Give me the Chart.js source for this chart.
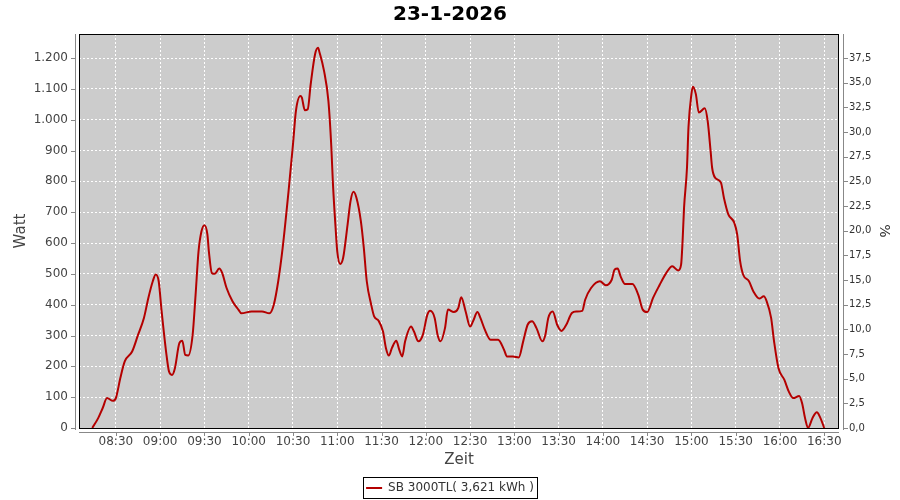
<!DOCTYPE html>
<html>
<head>
<meta charset="utf-8">
<script src="https://cdn.jsdelivr.net/npm/chart.js@4/dist/chart.umd.min.js"></script>
<style>
  body { margin: 0; background: #fff; }
  #wrap { width: 900px; height: 500px; }
</style>
</head>
<body>
<div id="wrap"><canvas id="pvChart" width="900" height="500"></canvas></div>
<script>
// Messwerte SB 3000TL, 23-1-2026
const zeit = [
    '08:14', '08:18', '08:21', '08:24', '08:28', '08:30', '08:33', '08:36', '08:41', '08:45',
    '08:49', '08:52', '08:55', '08:57', '08:59', '09:01', '09:04', '09:06', '09:08', '09:10',
    '09:13', '09:15', '09:17', '09:19', '09:22', '09:24', '09:26', '09:28', '09:30', '09:32',
    '09:33', '09:35', '09:37', '09:40', '09:42', '09:45', '09:49', '09:53', '09:55', '10:02',
    '10:09', '10:14', '10:17', '10:20', '10:23', '10:27', '10:30', '10:32', '10:35', '10:36',
    '10:38', '10:40', '10:42', '10:45', '10:47', '10:48', '10:51', '10:54', '10:56', '10:57',
    '10:59', '11:00', '11:02', '11:04', '11:07', '11:09', '11:11', '11:13', '11:16', '11:18',
    '11:20', '11:23', '11:25', '11:28', '11:31', '11:33', '11:35', '11:37', '11:40', '11:42',
    '11:44', '11:46', '11:50', '11:52', '11:55', '11:58', '12:01', '12:03', '12:06', '12:08',
    '12:10', '12:13', '12:15', '12:19', '12:22', '12:24', '12:27', '12:30', '12:32', '12:35',
    '12:37', '12:40', '12:44', '12:49', '12:53', '12:55', '12:59', '13:03', '13:06', '13:09',
    '13:12', '13:15', '13:19', '13:21', '13:23', '13:26', '13:29', '13:32', '13:35', '13:39',
    '13:42', '13:46', '13:48', '13:52', '13:58', '14:02', '14:06', '14:08', '14:10', '14:12',
    '14:15', '14:20', '14:24', '14:27', '14:30', '14:34', '14:38', '14:43', '14:47', '14:51',
    '14:53', '14:54', '14:55', '14:57', '14:58', '15:00', '15:01', '15:03', '15:05', '15:09',
    '15:11', '15:13', '15:14', '15:16', '15:20', '15:22', '15:25', '15:29', '15:31', '15:33',
    '15:35', '15:39', '15:42', '15:46', '15:49', '15:51', '15:54', '15:56', '15:59', '16:03',
    '16:06', '16:09', '16:13', '16:15', '16:17', '16:19', '16:22', '16:25', '16:27', '16:30'
];
const watt = [
    0, 32, 64, 97, 88, 97, 162, 216, 248, 302,
    357, 422, 476, 498, 476, 378, 248, 183, 172, 194,
    275, 283, 237, 235, 302, 432, 573, 638, 658, 628,
    573, 503, 500, 517, 503, 454, 411, 384, 372, 378,
    378, 372, 400, 476, 584, 768, 920, 1029, 1077, 1072,
    1031, 1034, 1115, 1213, 1233, 1218, 1159, 1061, 910, 800,
    640, 573, 532, 552, 660, 736, 766, 747, 671, 584,
    476, 400, 362, 348, 313, 259, 235, 259, 283, 254,
    232, 281, 329, 313, 281, 302, 367, 380, 357, 302,
    281, 324, 384, 376, 389, 424, 378, 329, 346, 376,
    357, 319, 286, 286, 254, 232, 232, 229, 281, 335,
    346, 324, 281, 302, 357, 378, 335, 315, 333, 373,
    378, 380, 416, 454, 476, 463, 481, 514, 517, 492,
    467, 467, 432, 384, 376, 422, 460, 503, 525, 511,
    530, 606, 714, 845, 975, 1083, 1107, 1083, 1023, 1037,
    996, 898, 845, 812, 796, 747, 693, 666, 628, 541,
    498, 476, 443, 420, 427, 411, 357, 281, 194, 156,
    118, 97, 104, 80, 32, 0, 32, 51, 37, 0
];
const zeitTicks = ['08:30', '09:00', '09:30', '10:00', '10:30', '11:00', '11:30', '12:00', '12:30',
    '13:00', '13:30', '14:00', '14:30', '15:00', '15:30', '16:00', '16:30'];
const zeitVon = '08:05';
const zeitBis = '16:40';
const wattMax = 1278;
const nennLeistung = 3200;
const legendeText = 'SB 3000TL( 3,621 kWh )';

toMin = (s) => {
    let p = s.split(':');
    return parseInt(p[0], 10) * 60 + parseInt(p[1], 10);
};
fmtZeit = (v) => {
    let h = Math.floor(v / 60);
    let m = v % 60;
    return (h < 10 ? '0' : '') + h + ':' + (m < 10 ? '0' : '') + m;
};

let punkte = [];
for (var i = 0; i < zeit.length; i++) {
    punkte.push({ x: toMin(zeit[i]), y: watt[i] });
}

Chart.defaults.font.family = "'DejaVu Sans', sans-serif";

// grauer Plot-Hintergrund, Rahmen, abgesetzte Achsenlinien, Legendenkasten
const plotDeko = {
    id: 'plotDeko',
    beforeDraw: (chart) => {
        let a = chart.chartArea;
        let ctx = chart.ctx;
        ctx.save();
        ctx.fillStyle = '#CCCCCC';
        ctx.fillRect(a.left, a.top, a.right - a.left, a.bottom - a.top);
        ctx.restore();
    },
    afterDraw: (chart) => {
        let a = chart.chartArea;
        let ctx = chart.ctx;
        ctx.save();
        ctx.lineWidth = 1;
        ctx.strokeStyle = '#000';
        ctx.strokeRect(a.left + 0.5, a.top + 0.5, a.right - a.left - 1, a.bottom - a.top);

        ctx.strokeStyle = '#888';
        ctx.beginPath();
        ctx.moveTo(a.left - 3.5, a.top);
        ctx.lineTo(a.left - 3.5, a.bottom + 2);
        ctx.moveTo(a.right + 4.5, a.top);
        ctx.lineTo(a.right + 4.5, a.bottom + 2);
        ctx.moveTo(a.left, a.bottom + 4.5);
        ctx.lineTo(a.right, a.bottom + 4.5);
        chart.scales.y.ticks.forEach(t => {
            let py = Math.round(chart.scales.y.getPixelForValue(t.value)) + 0.5;
            ctx.moveTo(a.left - 8, py);
            ctx.lineTo(a.left - 3, py);
        });
        chart.scales.y1.ticks.forEach(t => {
            let py = Math.round(chart.scales.y1.getPixelForValue(t.value)) + 0.5;
            ctx.moveTo(a.right + 4, py);
            ctx.lineTo(a.right + 9, py);
        });
        chart.scales.x.ticks.forEach(t => {
            let px = Math.round(chart.scales.x.getPixelForValue(t.value)) + 0.5;
            ctx.moveTo(px, a.bottom + 4);
            ctx.lineTo(px, a.bottom + 8);
        });
        ctx.stroke();

        let hb = chart.legend.legendHitBoxes[0];
        if (hb) {
            ctx.strokeStyle = '#000';
            ctx.strokeRect(Math.round(hb.left) - 2.5, Math.round(hb.top) - 4.5,
                Math.round(hb.width) + 6, Math.round(hb.height) + 9);
        }
        ctx.restore();
    }
};

var ctxL = document.getElementById('pvChart').getContext('2d');
var pvChart = new Chart(ctxL, {
    type: 'line',
    data: {
        datasets: [{
            label: legendeText,
            data: punkte,
            yAxisID: 'y',
            borderColor: '#B40000',
            backgroundColor: '#B40000',
            borderWidth: 2,
            pointRadius: 0,
            pointHoverRadius: 0,
            fill: false,
            cubicInterpolationMode: 'monotone'
        }]
    },
    options: {
        responsive: false,
        animation: false,
        layout: { padding: { left: 0, right: 0, top: 0, bottom: -4 } },
        plugins: {
            title: {
                display: true,
                text: '23-1-2026',
                color: '#000',
                font: { size: 20, weight: 'bold', lineHeight: 1.2 },
                padding: { top: 3, bottom: 7 }
            },
            legend: {
                position: 'bottom',
                labels: {
                    color: '#333',
                    font: { size: 12 },
                    padding: 6,
                    usePointStyle: true,
                    pointStyle: 'line',
                    pointStyleWidth: 16
                }
            },
            tooltip: { enabled: false }
        },
        scales: {
            x: {
                type: 'linear',
                min: toMin(zeitVon),
                max: toMin(zeitBis),
                afterBuildTicks: (s) => {
                    s.ticks = zeitTicks.map(z => ({ value: toMin(z) }));
                },
                afterFit: (s) => { s.height = 48; },
                ticks: {
                    color: '#444',
                    font: { size: 12 },
                    padding: 7,
                    maxRotation: 0,
                    autoSkip: false,
                    callback: (v) => fmtZeit(v)
                },
                grid: { color: '#fff', lineWidth: 1, drawTicks: false },
                border: { display: false, dash: [2, 2] },
                title: {
                    display: true,
                    text: 'Zeit',
                    color: '#444',
                    font: { size: 15 },
                    padding: { top: 0, bottom: 7 }
                }
            },
            y: {
                position: 'left',
                min: 0,
                max: wattMax,
                afterFit: (s) => { s.width = 79; },
                ticks: {
                    stepSize: 100,
                    includeBounds: false,
                    color: '#444',
                    font: { size: 12 },
                    padding: 11,
                    callback: (v) => v.toLocaleString('de-DE')
                },
                grid: { color: '#fff', lineWidth: 1, drawTicks: false },
                border: { display: false, dash: [2, 2] },
                title: {
                    display: true,
                    text: 'Watt',
                    color: '#444',
                    font: { size: 15 },
                    padding: { top: 12, bottom: 0 }
                }
            },
            y1: {
                position: 'right',
                display: true,
                min: 0,
                max: wattMax / nennLeistung * 100,
                afterFit: (s) => { s.width = 61; },
                ticks: {
                    stepSize: 2.5,
                    includeBounds: false,
                    color: '#333',
                    font: { size: 10 },
                    padding: 10,
                    callback: (v) => v.toFixed(1).replace('.', ',')
                },
                grid: { display: false, drawTicks: false },
                border: { display: false },
                title: {
                    display: true,
                    text: '%',
                    color: '#333',
                    font: { size: 14 },
                    padding: { top: 8, bottom: 0 }
                }
            }
        }
    },
    plugins: [plotDeko]
});
</script>
</body>
</html>
